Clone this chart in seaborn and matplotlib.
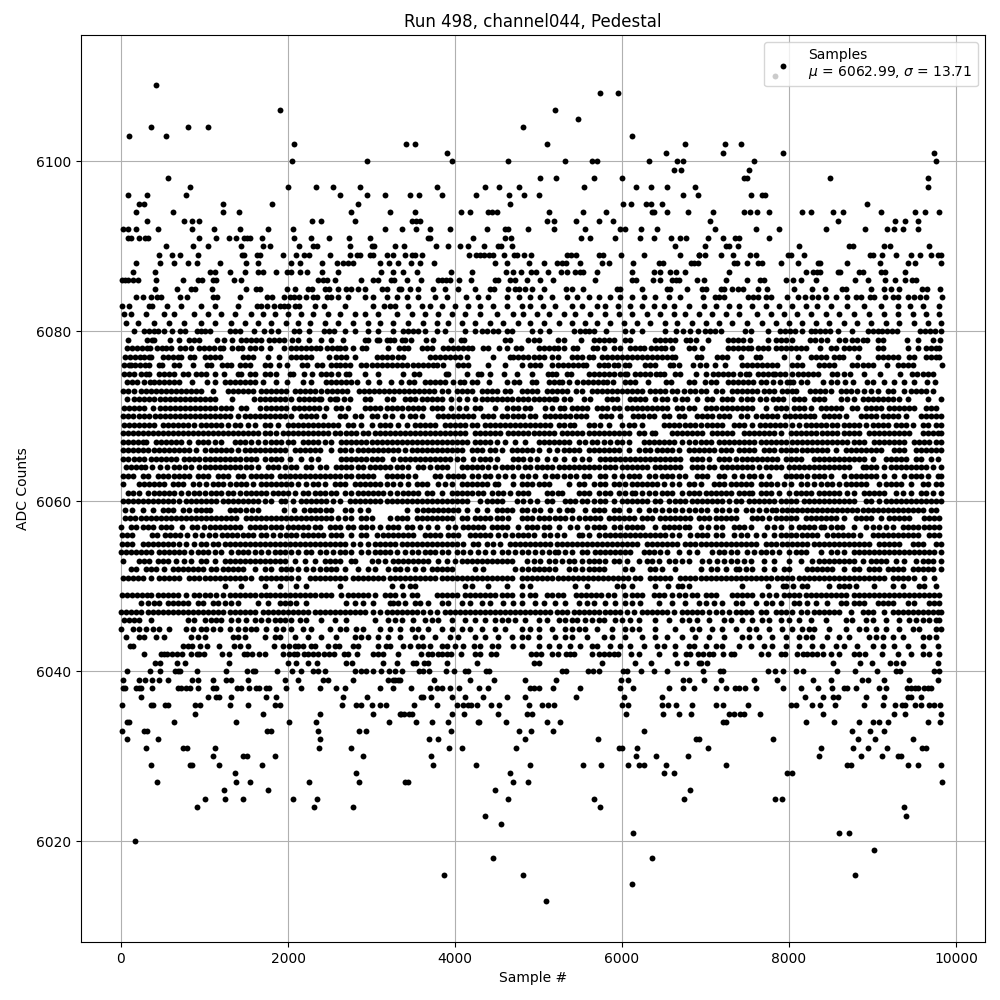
import matplotlib
matplotlib.use("Agg")
import matplotlib.pyplot as plt
import numpy as np
import pandas as pd
import seaborn as sns

# Values: ADC level -> sample numbers at that level.
# Outer levels hold sample numbers, core levels (C....) hold sample numbers / 10.
L6110=[7830]
L6109=[416]
L6108=[5740,5956]
L6106=[1904,5200]
L6105=[5476]
L6104=[356,800,1040,4816]
L6103=[92,536,6124]
L6102=[2072,3412,3520,5104,6760,7232,7424]
L6101=[3904,6532,7208,7928,9740]
L6100=[2048,2948,3964,4636,5320,5644,5704,6328,6664,6736,7580,9764]
L6099=[6628,6712,7520]
L6098=[560,5020,5212,5668,6004,7460,7496,8492,9668]
L6097=[824,2000,2336,2540,2864,3784,4360,4528,4768,5548,6172,6352,6544,6880,9668]
L6096=[80,308,776,2624,2948,3164,3460,3568,3844,4252,4648,4828,5008,6736,6904,7544,7676,7712]
L6095=[212,272,1220,1808,2840,4660,6016,6112,6292,6352,6484,8936]
L6094=[176,620,1220,1412,2756,3224,3520,4072,4180,4396,4444,4504,5128,5536,5812,6364,6388,6544,6796,7088,7460,7532,7616,7760,8156,8264,8528,8648,9104,9512,9632,9800]
L6093=[308,752,848,932,2288,2396,2804,3484,3532,3580,5104,5188,5452,5728,5896,7052,8588,9272,9392,9548]
L6092=[20,80,176,440,848,1112,1424,1760,2060,3164,3364,3532,3700,3940,4384,4600,4636,4876,5188,5560,5980,6040,6232,6424,7112,7604,7880,8444,8912,9176,9260,9368,9548]
L6091=[80,116,212,284,320,932,1136,1292,1376,1472,1508,1544,1688,2072,2276,2492,2732,2984,3676,3700,4216,4600,4672,5512,5620,5920,6220,6388,6592,6700,6772,7028,7208,7352,7400,7760]
L6090=[536,860,1040,1436,1700,1784,2132,2300,2348,2744,3008,3032,3284,3388,3772,3916,4060,4156,4348,4516,4552,4684,6640,6992,7244,7280,7388,8120,8720,8768,9140,9212,9680]
L6089=[452,608,704,920,1448,1472,1628,1664,1940,2096,2192,2252,2504,2744,2828,2864,2984,3020,3188,3260,3400,3484,3520,3604,4168,4252,4300,4348,4408,4456,4588,4708,4744,4828,4912,5344,5392,5452,5728,5776,5992,6268,6700,6916,6920,6992,7184,7328,7532,7604,7988,8024,8180,8972,9008,9116,9284,9464,9572,9704,9788,9824]
L6088=[176,464,632,800,908,1184,1496,1640,2036,2144,2408,2588,2660,2720,2780,3104,3212,3320,3472,3580,3748,4480,4624,4888,5068,5224,5284,5332,5500,5764,5848,6136,6448,6496,6832,6868,6908,7340,7376,7496,7628,7676,7904,8108,8348,8372,8696,9092,9428,9512,9824]
L6087=[140,404,1064,1124,1304,1484,1640,1700,1856,1988,2036,2144,2228,2408,2600,3116,3260,3376,3544,3952,4204,4612,4696,4792,4912,4972,5116,5272,5344,5440,5500,5536,5704,6124,6388,6460,6580,6652,6760,7280,8204,8288,8336,8372,8588,8612,8840,8888,9104,9152,9392]
L6086=[8,44,80,140,200,416,740,920,968,1100,1136,1352,1436,2360,2420,2468,2564,2876,3020,3080,3236,3272,3424,3592,3796,3844,3892,3940,4048,4192,4480,4516,4660,4720,4864,5020,5176,5680,6124,6172,6376,6460,6604,6652,6688,6896,6980,7244,7496,7652,7700,7964,8048,8144,8324,8792,8948,9152,9272,9392,9476,9524]
L6085=[404,668,836,884,1088,1496,1616,1664,1988,2084,2240,2288,2444,2492,2600,2696,2756,2840,2924,3128,3188,3332,3352,3460,3556,3736,3880,4036,4240,4420,4468,4636,4720,4768,4840,4924,5068,5332,5404,5536,5944,5980,6244,6544,6580,6784,6956,7004,7184,7220,7316,7388,7448,7628,7736,8060,8276,8432,8636,8684,8984,9140,9224,9320,9596,9656,9812]
L6084=[176,260,356,428,476,704,788,1100,1148,1424,1748,1808,1952,2024,2072,2132,2216,2300,2348,2468,2516,2600,2720,2924,3020,3188,3308,3420,3560,3760,3900,4130,4280,4400,4620,4770,4900,5020,5160,5340,5460,5600,5720,5860,5980,6120,6260,6400,6560,6700,6968,7112,7160,7220,7508,7568,7628,7724,7784,7976,8108,8192,8276,8348,8444,8564,8696,8804,8864,8972,9020,9152,9248,9308,9428,9500,9572,9644,9836]
L6083=[8,92,332,368,548,716,956,1124,1400,1628,1676,1748,1832,1904,1952,2000,2084,2132,2324,2432,2684,3020,3152,3224,3284,3440,3600,3700,3840,4000,4150,4300,4460,4620,4800,4900,5050,5200,5400,5520,5700,5800,5950,6100,6240,6380,6500,6620,6800,6980,7120,7280,7400,7560,7720,7880,8040,8200,8340,8500,8700,8900,9100,9300,9450,9600,9800]
L6082=[40,120,300,520,640,880,1040,1200,1360,1560,1700,1840,2000,2160,2300,2480,2620,2800,2920,3080,3300,3480,3640,3800,3960,4120,4300,4500,4700,4820,4980,5120,5300,5440,5620,5800,5960,6120,6300,6460,6620,6760,6920,7080,7240,7400,7620,7780,7940,8100,8260,8440,8600,8780,8960,9140,9300,9480,9640,9800]
L6081=[60,200,400,580,760,960,1120,1320,1480,1640,1800,1980,2120,2260,2440,2600,2780,2960,3100,3260,3440,3620,3780,3920,4080,4240,4420,4580,4760,4900,5060,5240,5400,5560,5700,5860,6020,6180,6340,6520,6660,6840,7000,7160,7320,7500,7680,7840,8000,8160,8320,8480,8660,8820,8980,9160,9320,9500,9660,9820]

C6080=[16,27,33,39,44,51,61,71,77,91,96,100,107,131,137,142,159,171,180,188,207,213,225,243,249,255,268,280,296,308,326,338,344,350,356,364,378,388,412,424,432,438,446,452,462,468,492,502,512,543,550,556,561,567,581,603,612,624,651,665,673,681,691,699,705,711,719,747,755,775,789,795,801,807,815,826,831,837,843,849,859,875,895,901,907,911,917,923,929,957,963,969,975,982]
C6079=[8,31,37,40,59,70,82,88,94,115,123,133,144,150,156,162,168,177,183,189,195,205,212,225,240,251,266,292,296,306,309,318,322,327,336,340,347,365,374,395,407,411,460,466,488,494,500,523,530,551,566,572,578,584,590,603,610,639,645,651,657,663,677,681,689,703,727,733,739,745,753,775,785,790,796,803,825,831,838,845,860,867,876,882,888,893,907,913,941,955,973,981]
C6078=[7,13,19,25,31,35,43,49,54,60,71,77,84,93,99,105,111,118,122,133,140,145,155,161,168,179,195,203,209,215,221,227,233,238,247,253,259,262,268,278,289,294,320,333,339,344,361,367,373,386,392,398,404,410,416,420,433,439,453,462,473,479,501,507,513,518,523,531,541,546,565,570,579,591,597,610,616,622,626,635,641,647,652,660,680,686,696,727,733,739,745,751,755,763,769,775,785,790,796,802,808,814,820,837,850,856,866,872,878,884,906,912,943,955,964,970,976,980]
C6077=[5,11,17,23,27,33,36,50,56,62,68,72,83,87,101,107,113,119,146,152,158,176,189,203,209,215,221,227,249,258,264,270,280,306,312,318,324,332,338,370,376,382,388,394,400,406,414,446,466,470,476,482,488,494,500,506,516,523,540,546,552,560,565,576,582,588,594,600,606,612,618,624,630,636,642,648,654,660,664,690,695,714,720,726,743,760,765,794,811,826,832,838,844,854,860,865,883,906,912,918,924,930,944,950,964,970,976,980]
C6076=[3,9,12,17,23,29,33,45,49,63,69,86,103,108,121,127,132,143,149,155,173,179,189,199,217,223,235,241,251,257,262,268,274,288,294,300,306,312,318,324,330,336,342,350,356,362,368,374,378,386,404,410,416,440,460,480,490,496,502,516,523,529,535,541,547,553,557,573,579,583,591,595,603,608,628,634,640,657,661,668,685,693,701,711,723,744,750,756,762,768,774,780,786,804,810,816,836,842,848,854,876,882,888,894,901,917,930,936,942,948,983]
C6075=[4,10,15,24,30,34,46,52,58,64,74,80,90,96,102,113,123,140,144,154,160,172,178,186,202,206,219,229,240,246,252,260,269,273,292,308,338,351,357,389,392,414,427,431,442,459,474,492,511,516,521,534,539,561,567,573,579,585,591,597,603,606,616,622,628,634,641,645,650,664,670,689,701,709,715,721,727,733,741,748,752,763,769,775,781,783,789,795,803,811,817,823,829,835,851,857,866,873,890,909,933,947,953,960,966,972]
C6074=[7,13,19,27,35,40,46,52,58,64,70,85,103,113,125,131,137,143,149,155,161,170,186,199,218,227,245,251,258,263,269,275,283,296,309,323,335,345,351,364,370,376,382,388,398,406,411,420,426,441,462,471,477,492,497,512,518,524,528,536,546,553,559,565,571,577,582,589,603,609,615,631,653,659,680,686,699,707,713,727,733,739,745,751,757,766,772,781,789,797,801,805,814,821,841,850,858,867,877,893,901,914,926,938,950,965,975]
C6073=[2,8,15,24,30,36,42,48,54,60,66,72,78,84,90,96,110,128,134,140,146,152,158,168,174,180,186,192,198,208,214,220,226,232,239,247,253,259,265,271,285,291,297,303,309,315,321,327,333,339,345,351,357,363,369,375,384,392,402,408,414,420,432,438,444,450,460,466,480,486,492,498,510,516,522,528,534,545,552,564,570,576,582,588,594,600,606,612,618,624,634,640,646,652,660,666,674,682,688,694,700,712,720,732,738,744,750,756,762,770,776,782,792,798,804,808,825,831,837,843,850,862,868,874,882,890,898,906,918,924,938,946,952,958,964,972]
C6072=[7,15,21,27,33,39,47,53,59,65,71,77,83,89,95,101,107,113,133,159,167,173,179,185,191,197,203,213,219,225,231,237,240,250,256,259,267,274,292,298,318,326,340,346,352,360,366,372,378,384,395,405,414,424,432,438,444,450,456,462,468,476,482,488,494,500,506,512,518,521,530,538,554,562,582,588,594,610,616,622,628,640,648,654,664,672,678,690,702,708,720,726,732,742,750,756,765,772,781,787,793,806,812,818,830,836,842,862,870,878,888,894,900,906,912,918,924,932,942,966,982]
C6071=[4,10,16,22,27,38,47,53,59,65,71,77,83,89,95,101,107,113,120,126,132,144,150,166,174,180,186,192,198,207,213,219,225,231,237,246,258,264,272,292,298,304,310,318,324,330,336,344,350,356,362,372,378,384,395,405,413,424,430,448,462,470,476,484,490,508,516,526,531,540,546,552,558,570,576,582,590,596,606,612,618,624,630,636,642,648,654,666,672,680,686,700,706,712,720,726,732,738,744,750,756,772,784,790,796,806,812,818,826,838,844,850,856,862,875,881,892,898,904,910,920,926,932,938,944,950,964,970,976]
C6070=[2,8,14,22,28,34,41,47,53,59,65,71,77,83,89,95,101,107,113,119,125,131,140,148,154,160,166,172,178,184,190,196,204,216,222,228,234,243,262,268,280,288,300,306,316,324,336,346,352,360,380,386,392,398,404,410,416,422,434,440,446,456,462,470,476,482,490,496,508,514,520,526,532,538,545,551,557,575,581,587,597,613,619,625,632,638,650,656,668,674,690,696,702,708,716,722,728,742,750,760,768,774,780,786,795,801,807,813,819,825,830,842,848,854,860,868,886,892,898,904,912,918,924,930,940,958,964,970,976,982]
C6069=[4,10,16,22,28,34,40,50,56,62,68,74,80,88,96,102,108,114,120,128,136,142,152,160,172,178,188,200,206,212,218,224,230,236,242,248,254,260,272,278,288,300,310,316,322,332,342,352,358,364,370,376,388,394,400,406,412,420,426,436,442,448,454,460,466,472,478,484,490,496,502,508,514,524,530,538,542,560,566,574,585,600,608,614,624,650,656,662,668,676,682,688,694,702,708,714,720,734,740,746,756,765,771,777,783,789,795,804,812,820,826,832,838,844,852,858,866,872,878,884,892,900,906,912,918,928,934,940,948,960,966,976,982]
C6068=[2,8,14,20,26,32,38,44,50,56,62,68,74,80,86,92,98,104,110,116,122,128,134,140,146,152,158,164,172,178,186,194,200,206,212,218,224,230,236,242,248,256,262,270,276,282,290,296,304,310,316,322,328,334,340,346,352,358,364,370,376,382,388,394,400,406,412,424,430,436,442,448,454,464,470,476,482,488,494,500,506,512,518,528,534,540,546,552,560,566,572,578,584,590,596,602,608,620,626,636,640,660,666,672,678,684,690,696,708,714,720,726,732,746,752,758,764,770,776,782,790,802,808,814,820,826,832,840,846,852,858,866,872,878,884,896,902,908,914,920,926,932,938,944,960,966,972,978,982]
C6067=[2,8,14,20,26,30,42,48,54,60,66,72,82,92,98,104,112,120,136,142,148,156,164,172,180,186,192,200,206,218,224,230,236,244,252,264,270,276,282,288,294,300,306,312,318,324,330,336,342,348,354,360,366,372,378,384,390,396,402,408,414,424,430,436,442,450,460,472,484,500,506,512,518,524,530,536,548,556,564,570,578,586,594,600,608,626,632,638,644,650,656,662,672,680,688,694,700,706,716,722,728,734,740,746,752,758,766,772,778,784,790,796,804,810,816,822,828,834,840,846,852,858,864,870,878,884,890,902,908,914,920,926,932,938,950,956,962,968,976,982]
C6066=[2,8,14,20,26,32,40,46,52,58,64,70,76,82,90,100,108,114,120,126,132,140,148,154,160,166,172,178,184,190,196,208,214,220,226,232,238,252,262,268,276,284,290,296,302,308,314,320,326,332,340,348,354,360,366,372,378,384,390,396,402,408,420,426,432,442,448,456,468,474,480,486,492,500,512,522,530,536,542,548,560,566,572,578,584,590,596,608,620,628,634,642,648,654,660,668,680,686,692,698,704,710,718,724,730,740,746,752,758,770,776,782,790,796,802,808,816,822,828,834,840,846,856,868,874,880,886,892,898,904,910,926,932,938,952,958,964,970,976,982]
C6065=[2,8,16,22,28,36,42,48,54,60,66,76,82,88,94,100,106,112,118,124,130,136,142,150,156,162,172,180,186,192,202,216,228,236,264,270,276,282,288,294,300,306,312,326,334,340,346,352,358,364,370,376,382,388,394,402,410,422,430,436,442,450,470,476,482,490,498,510,520,530,542,552,560,574,580,586,592,598,604,610,616,622,628,634,640,646,652,658,664,670,684,690,696,704,716,722,728,736,744,750,756,762,768,774,780,786,796,802,808,814,830,836,842,848,854,860,866,872,878,884,890,900,916,922,928,934,940,952,958,970,978]
C6064=[6,12,18,24,29,37,47,55,63,70,77,84,94,100,106,112,118,124,130,136,142,150,156,164,176,182,188,196,204,210,222,228,238,246,258,264,270,276,284,290,298,304,310,316,322,330,336,344,356,362,370,378,384,390,408,414,420,426,432,440,448,456,462,468,476,484,490,498,504,510,516,524,530,536,542,548,554,560,566,572,580,586,592,600,606,612,618,624,630,640,646,652,658,664,670,684,690,696,704,710,720,726,732,738,744,750,756,764,772,778,784,790,800,806,812,818,824,830,836,842,848,854,860,866,872,888,892,898,904,914,922,928,934,940,946,952,958,964,972,982]
C6063=[2,8,14,26,32,44,50,56,64,70,76,82,92,98,104,116,122,128,140,146,156,162,168,174,180,190,196,202,208,214,220,226,232,238,244,250,256,262,270,276,284,290,296,302,318,324,330,336,344,352,376,382,392,398,404,410,420,428,436,442,452,460,470,480,488,496,508,516,522,530,538,545,554,560,574,580,590,600,608,614,620,632,640,648,654,660,668,676,690,696,702,716,722,734,744,752,758,766,776,796,802,808,814,822,830,836,842,850,866,874,880,886,892,898,904,914,926,938,946,952,958,966,978,982]
C6062=[2,22,28,34,40,46,52,62,68,74,86,94,102,110,116,122,130,138,144,150,158,168,174,180,186,192,198,204,212,222,230,236,244,256,262,268,280,286,292,298,304,310,318,326,334,344,354,360,366,380,388,396,408,414,420,426,432,438,448,452,470,480,486,492,500,506,512,536,548,554,566,574,580,590,596,604,612,618,624,630,636,642,650,660,668,680,686,694,710,716,722,730,736,742,748,754,766,772,778,786,794,802,814,822,830,838,846,852,860,868,874,880,886,892,908,916,922,928,934,946,960,966,976,982]
C6061=[8,14,22,32,40,46,52,58,64,72,80,88,94,100,108,114,120,128,134,142,150,156,162,168,174,182,188,194,200,208,218,224,232,238,244,252,258,268,276,284,290,296,302,308,314,322,330,338,344,350,356,366,372,384,396,402,408,414,420,428,434,444,452,458,466,476,482,488,510,516,523,528,548,554,560,572,580,586,596,604,612,616,624,632,640,648,654,660,672,680,686,692,700,706,712,718,724,730,740,746,752,756,766,772,778,788,800,808,814,820,826,836,842,848,854,860,870,878,890,896,902,908,914,928,936,946,958,964,972,982]
C6060=[2,8,14,20,26,32,38,44,50,56,62,70,78,84,90,96,102,108,114,122,128,134,140,146,152,158,164,172,180,192,196,206,216,222,228,234,240,246,254,262,274,280,286,292,298,304,310,318,324,330,336,342,348,354,360,366,372,378,384,390,396,402,408,414,430,438,444,450,456,474,482,490,498,510,516,532,538,544,552,558,566,574,580,590,600,606,612,618,624,630,640,646,656,664,670,676,684,690,696,702,708,714,720,728,736,742,752,758,764,770,776,782,790,796,802,808,818,824,830,836,842,848,854,860,866,872,878,892,898,908,916,922,928,934,940,946,952,958,964,970,976,982]
C6059=[5,13,26,38,50,56,62,74,82,90,96,102,107,131,137,143,150,157,164,195,207,219,226,232,238,246,252,268,276,286,296,342,354,362,368,374,380,386,392,398,404,414,426,438,450,456,462,468,480,486,494,502,514,524,534,540,556,566,572,578,590,596,608,620,632,640,648,656,664,672,680,688,694,702,712,720,728,736,748,756,764,772,780,785,792,798,804,810,816,822,828,834,840,846,852,858,864,870,876,882,888,894,900,906,912,918,924,930,936,942,948,954,960,970,976]
C6058=[5,11,17,24,30,36,42,48,54,60,66,72,78,84,90,96,102,108,114,120,126,132,138,150,156,162,168,174,180,186,192,198,204,210,216,222,228,234,240,246,252,260,268,276,288,294,300,322,330,336,342,354,360,366,372,378,384,390,396,408,414,424,430,436,442,450,456,464,480,486,492,500,506,512,520,526,532,540,548,556,562,568,574,584,590,596,602,608,614,624,630,636,646,652,658,664,670,676,682,692,698,704,712,718,724,730,736,756,762,768,776,784,790,796,802,808,820,826,832,838,844,850,856,866,880,886,892,898,910,920,926,932,938,944,962,968,974,980]
C6057=[0,12,18,26,32,38,48,54,60,73,85,91,99,107,113,119,125,131,137,143,155,161,167,173,180,186,192,200,206,212,218,224,232,238,250,256,262,272,278,288,294,300,310,320,326,332,342,348,358,368,378,392,400,410,416,422,428,434,444,450,456,462,476,486,492,498,506,512,524,538,546,558,566,572,578,590,598,606,612,618,624,640,650,656,662,668,676,680,695,703,712,720,734,740,746,754,774,782,790,802,812,818,824,830,838,842,850,858,864,878,892,900,908,916,924,936,942,948,954,962,968,974,980]
C6056=[1,7,13,37,43,53,59,65,71,79,89,97,105,113,121,127,133,139,146,152,158,168,174,182,190,198,204,210,218,224,230,236,242,252,258,264,276,288,294,306,314,320,326,332,338,344,350,364,370,376,382,392,398,404,418,424,430,436,442,452,460,468,476,482,488,494,506,514,522,530,548,552,560,572,580,586,592,598,604,610,616,622,628,634,640,646,652,660,668,682,690,696,702,712,720,734,742,750,760,770,782,790,796,802,808,815,821,827,833,845,853,859,865,871,877,885,900,906,912,918,924,930,936,942,948,954,968,974,980]
C6055=[1,7,13,26,32,38,44,50,56,62,70,78,88,96,102,110,116,124,130,136,142,148,154,160,166,172,178,184,190,196,202,208,214,220,226,232,238,244,250,256,262,268,278,286,296,304,310,316,322,328,336,342,348,354,360,366,372,378,384,390,396,402,410,422,428,438,446,454,466,472,478,484,490,496,502,508,514,522,528,534,540,546,552,558,564,570,576,582,588,594,600,606,612,618,630,636,642,648,654,660,666,676,682,688,694,700,706,712,718,724,730,736,742,748,754,760,772,778,784,792,798,804,810,816,822,830,836,842,848,854,860,866,872,878,884,890,896,908,914,920,926,932,948,954,960,976,982]
C6054=[0,6,12,18,24,30,36,46,52,58,64,70,76,84,92,98,104,112,120,132,140,146,152,160,168,176,184,190,196,204,212,222,228,238,246,254,262,268,276,288,296,304,310,316,322,330,340,348,356,364,370,376,384,392,402,410,418,428,436,446,456,464,472,480,488,496,504,512,520,523,532,540,552,558,568,574,580,586,592,598,604,610,626,632,638,646,654,668,680,690,708,716,722,730,738,750,758,766,772,780,788,800,808,814,820,838,850,858,866,878,884,890,896,902,908,914,920,926,932,938,944,950,956,962,968,974,982]
C6053=[2,22,28,34,44,50,56,66,76,84,96,102,112,124,130,136,142,148,154,160,166,172,178,184,190,196,208,220,232,244,250,256,262,276,280,300,308,316,326,332,338,344,350,356,362,368,380,390,400,408,414,420,426,432,438,444,450,456,462,468,486,494,502,512,520,528,536,542,552,560,566,572,580,590,596,606,620,630,636,644,656,664,672,680,696,704,714,722,730,738,746,754,770,782,800,814,828,836,842,848,854,860,866,872,878,888,898,904,910,916,928,938,952,960,966,972,982]
C6052=[12,18,30,36,42,52,62,68,74,80,86,92,98,108,114,122,128,134,140,146,160,172,180,192,198,204,212,222,230,238,246,252,258,268,284,296,304,320,328,334,342,352,362,372,378,384,390,396,424,434,472,480,488,494,500,506,512,520,536,544,552,560,566,572,578,604,612,634,640,648,664,694,706,714,724,736,740,748,756,770,782,794,800,822,828,834,840,846,852,866,878,884,896,902,908,918,924,930,936,948,954,960,966,972,982]
C6051=[2,8,14,20,26,36,46,52,58,64,70,82,88,94,100,106,112,118,124,130,136,142,148,156,168,174,180,186,192,198,204,212,226,232,238,244,250,256,262,268,278,284,290,296,302,308,314,322,328,334,340,346,352,358,364,370,376,384,390,396,402,408,414,420,426,432,438,444,450,456,462,468,480,486,492,498,504,510,516,523,529,535,541,547,553,559,565,571,577,583,589,595,601,607,615,621,634,640,646,652,658,670,676,682,688,694,700,706,712,718,724,730,736,742,748,754,760,766,772,778,786,792,798,804,812,818,824,830,836,842,848,854,860,866,872,878,884,890,896,902,908,914,924,930,936,942,950,962,974]
C6050=[124,144,173,191,209,222,262,324,336,346,352,412,420,440,462,480,490,544,558,594,601,612,640,655,667,672,680,744,775,793,796,805,816,822,848,860,866,872,880,902,924,936,956,962,976]
C6049=[1,7,13,19,25,31,36,44,50,56,62,68,78,88,94,100,106,114,122,130,136,142,148,154,161,168,174,178,184,190,196,202,208,214,220,226,232,240,246,252,264,272,278,284,290,296,304,316,322,328,338,348,354,378,384,390,396,402,412,418,424,430,436,442,448,456,462,468,480,490,496,510,516,523,529,545,551,557,563,569,575,583,591,604,612,618,624,638,644,650,660,668,676,684,690,700,706,712,732,738,744,750,756,768,776,784,794,800,806,812,820,826,832,838,844,850,856,862,868,878,884,890,896,902,908,914,920,926,932,938,944,950,956,962,968,974,980]
C6048=[24,32,40,46,56,62,68,74,80,92,98,110,116,124,132,140,164,176,190,196,202,210,222,270,280,290,302,322,326,332,340,352,358,368,384,392,408,418,432,442,458,470,480,496,506,520,532,548,558,566,580,592,604,612,622,644,660,676,692,700,710,720,736,744,760,772,780,790,806,812,822,832,846,862,868,878,884,890,906,912,918,924,942,950,968,974,980]
C6047=[0,6,12,18,24,32,38,44,50,56,62,68,74,80,86,92,98,104,110,116,122,130,136,142,148,154,160,170,176,182,188,194,200,206,212,218,224,232,238,244,250,256,262,268,274,280,286,292,302,310,318,324,330,336,342,348,354,362,370,378,388,394,400,406,412,418,424,430,436,442,448,454,460,466,472,478,484,490,496,502,508,514,522,528,534,542,548,554,560,566,572,580,586,592,598,606,614,624,630,636,642,648,654,662,672,678,684,690,696,704,712,720,728,736,742,748,754,766,772,784,790,796,804,814,822,830,836,842,848,854,860,874,888,894,900,914,924,930,936,942,948,954,960,966,972,978,982]
C6046=[4,10,16,22,36,80,88,100,108,114,120,132,140,150,160,168,176,184,190,196,204,214,222,240,256,270,304,320,328,336,350,364,372,380,396,412,424,436,448,456,464,472,484,500,510,524,532,540,546,556,564,572,578,592,600,610,620,640,656,672,680,690,704,722,730,744,756,768,776,790,800,812,826,844,868,876,892,900,916,932,944,952,960,968,976,980]
C6045=[0,14,22,30,38,46,58,78,86,96,102,110,118,130,140,148,156,162,174,186,194,204,218,228,250,262,270,282,290,310,322,334,348,356,368,384,396,408,418,432,448,460,480,490,500,516,532,540,548,556,570,588,604,612,620,640,664,684,692,708,720,736,752,760,776,792,804,816,824,830,848,868,884,892,904,916,932,948,956,976,982]
C6044=[6,22,28,42,52,84,92,100,134,140,148,172,184,190,208,224,240,258,280,288,296,308,320,334,352,360,376,394,404,424,436,452,468,480,488,500,520,532,540,558,578,588,604,624,640,654,672,688,704,722,744,752,764,780,796,812,820,828,846,860,872,896,904,912,924,936,960,968,976]

L6043=[104,140,740,800,848,944,1028,1172,1352,1424,1520,1832,1940,2012,2084,2120,2180,2276,2324,2480,2564,2612,2780,2840,3080,3176,3224,3380,3460,3560,3620,3700,3840,3900,4000,4100,4230,4300,4440,4520,4700,4800,5000,5120,5240,5380,5500,5640,5700,5860,5980,6100,6260,6420,6500,6640,6800,6860,7000,7120,7200,7400,7540,7700,7800,7960,8120,8280,8400,8560,8660,8820,9000,9120,9260,9420,9600,9780]
L6042=[272,476,512,548,608,668,728,836,908,932,992,1208,1292,1472,1508,1568,1652,1724,1940,2012,2072,2108,2192,2240,2300,2360,2432,2492,2552,2672,2720,2828,3020,3080,3140,3320,3592,3676,3724,3796,3844,3904,3952,4072,4240,4300,4432,4492,4912,4972,5032,5164,5236,5332,5380,5428,5644,5728,5788,5848,5908,5956,6112,6208,6448,6640,6772,6820,6908,6968,7040,7088,7208,7304,7340,7664,7748,7904,7952,8096,8168,8216,8276,8336,8408,8504,8600,8780,8840,8912,9116,9308,9464,9608,9680,9800]
L6041=[404,464,668,764,1292,2000,2096,2240,2348,2696,2768,3140,3308,3496,3532,3628,3676,3904,4264,4948,5008,5764,6160,6352,6664,6772,6916,6944,7016,8528,8852,8996,9212,9284,9368,9788]
L6040=[68,344,464,644,680,704,908,1256,1508,1580,1604,1868,2048,2156,2300,2360,2444,2804,2876,2936,3020,3116,3212,3284,3364,3568,3616,3688,3892,3988,4120,4156,4372,4408,5284,5332,5596,5656,5728,6016,6064,6232,6388,6544,6968,7172,7208,7748,7832,7928,8084,8168,8576,8792,9056,9284,9332,9740,9800]
L6039=[20,212,284,368,452,560,848,920,1100,1256,1316,1520,1964,2120,2420,2480,2780,3200,3260,3284,3320,3340,3748,4180,4468,4840,5212,5992,6076,6736,6808,6980,7184,7580,7856,8288,8504,8876,8948,9140,9440,9788]
L6038=[20,44,176,212,236,368,680,716,776,824,920,1100,1136,1388,1436,1532,1616,1652,1736,1772,1976,2156,2384,2576,2684,3104,3260,3472,3700,3784,3844,3940,4048,4288,4396,4900,4948,5008,5176,5500,5980,6136,6568,6736,6868,7124,7244,7352,7400,7472,7604,7928,8144,8348,8516,8660,8700,8804,9080,9164,9416,9464,9512,9548,9620,9668,9704]
L6037=[236,1040,1136,1172,1316,1736,1856,2660,2948,3592,3616,3712,3964,4120,4336,4624,4840,5452,6028,6484,8192,8408,8528,8588,8924,9140,9428,9464,9584]
L6036=[8,356,380,524,560,884,944,1304,1520,1844,1904,2648,2816,2876,3008,3104,3176,3508,3784,4024,4096,4156,4192,4264,4432,4528,4888,5044,5116,5188,6004,6076,6484,6556,6652,6844,7124,7208,7508,8024,8084,8276,8372,8552,8900,9128,9272,9356,9392,9512,9584,9680,9740,9812]
L6035=[884,1700,2384,3020,3340,3352,3388,3448,3484,3964,4108,4516,4864,4924,6052,6496,6688,6832,7280,7340,7412,7460,7652,8408,9260,9392,9824]
L6034=[68,92,632,1376,2012,2336,3212,3532,3724,3916,4276,4288,4612,5104,5260,7208,7244,8204,8540,8840,9008,9080,9188,9668,9812]
L6033=[8,272,308,1748,1796,2360,2852,2936,3952,4768,4912,5176,6268,8756,8972,9140]
L6032=[68,440,2384,3688,3796,4840,5716,6884,6920,7808,8828,9032,9488]
L6031=[296,740,788,1124,2372,2756,3928,4084,4732,5968,6004,6184,7028,8384,8768,8948,9176,9596,9644]
L6030=[1100,1460,1508,1844,2900,3712,6172,6412,6796,8360,8864,9116,9308,9344]
L6029=[356,824,856,1172,1688,3736,4252,4900,5536,5752,6076,6208,6268,6532,7244,8696,8744,9428,9548,9824]
L6028=[1364,2816,4660,6508,6628,7976,8036]
L6027=[428,1376,1544,2252,2852,3400,3436,4696,4876,9836]
L6026=[1232,1760,4480,6820]
L6025=[1004,1244,1460,2060,2348,4636,5668,6748,7832,7916]
L6024=[908,2312,2780,5740,9380]
L6023=[4360,9404]
L6022=[4552]
L6021=[6136,8600,8720]
L6020=[168]
L6019=[9020]
L6018=[4456,6364]
L6016=[3868,4816,8792]
L6015=[6124]
L6013=[5092]

ns = globals()
sample_vals, adc_vals = [], []
for lvl in range(6013, 6111):
    if f"L{lvl}" in ns:
        sample_vals += list(ns[f"L{lvl}"])
        adc_vals += [lvl] * len(ns[f"L{lvl}"])
    if f"C{lvl}" in ns:
        sample_vals += [v * 10 for v in ns[f"C{lvl}"]]
        adc_vals += [lvl] * len(ns[f"C{lvl}"])
df = pd.DataFrame({"sample": sample_vals, "adc": adc_vals})

sns.set_style("ticks", {"text.color": "black", "axes.labelcolor": "black",
                        "xtick.color": "black", "ytick.color": "black"})
plt.rcParams["font.family"] = "DejaVu Sans"
fig, ax = plt.subplots(figsize=(10, 10), dpi=100)
sns.scatterplot(data=df, x="sample", y="adc", color="k", s=18, linewidth=0, ax=ax, zorder=3,
                label="Samples\n$\\mu$ = 6062.99, $\\sigma$ = 13.71")
ax.set_xlim(-479, 10347)
ax.set_xticks([0, 2000, 4000, 6000, 8000, 10000])
ax.set_yticks([6020, 6040, 6060, 6080, 6100])
ax.grid(True, color="#b0b0b0", linewidth=0.8)
ax.set_axisbelow(True)
ax.tick_params(direction="out", length=3.5, width=0.8, labelsize=10)
for s in ax.spines.values():
    s.set_visible(True)
    s.set_linewidth(0.8)
    s.set_color("k")
ax.set_title("Run 498, channel044, Pedestal", fontsize=12, color="black")
ax.set_xlabel("Sample #", fontsize=10)
ax.set_ylabel("ADC Counts", fontsize=10)
ax.legend(loc="upper right", scatterpoints=1, fontsize=10, framealpha=0.8)
fig.subplots_adjust(left=0.081, right=0.985, top=0.965, bottom=0.058)
fig.savefig("out.png", dpi=100)
